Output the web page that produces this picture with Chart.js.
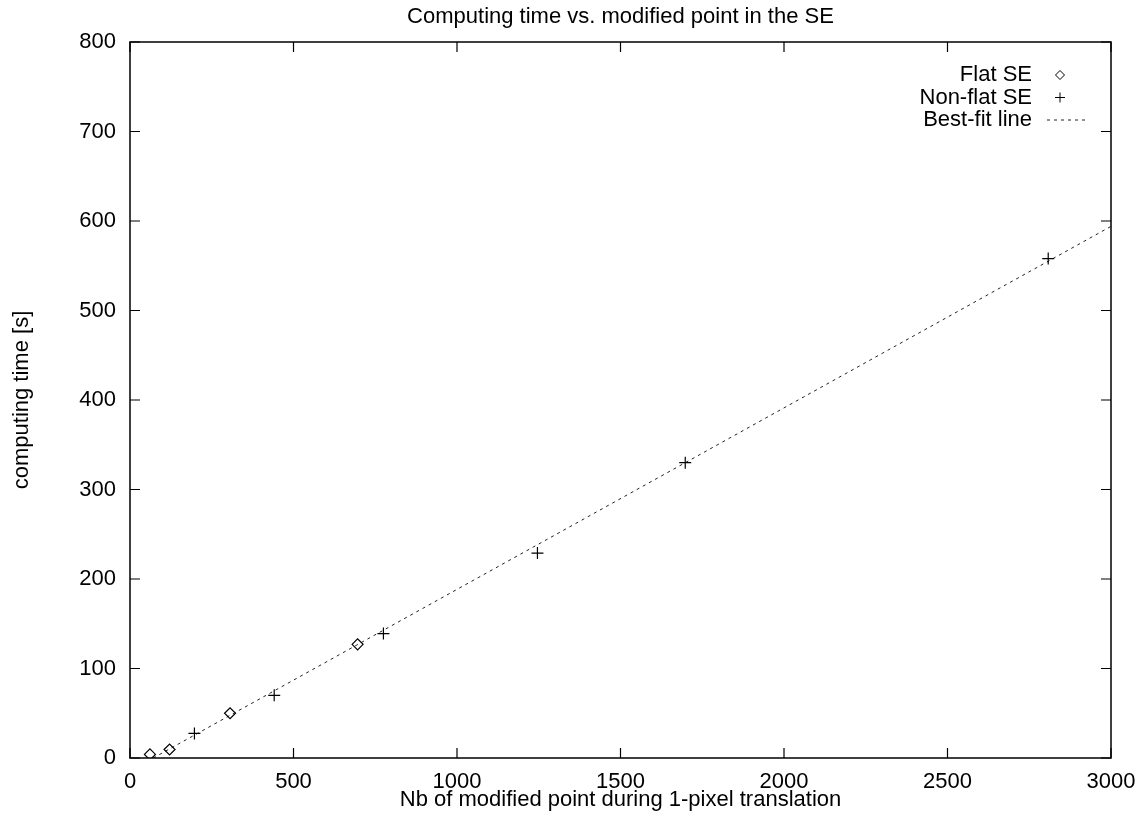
<!DOCTYPE html>
<html>
<head>
<meta charset="utf-8">
<title>Computing time vs. modified point in the SE</title>
<script src="https://cdn.jsdelivr.net/npm/chart.js@4.4.1/dist/chart.umd.min.js"></script>
<style>
  html, body { margin: 0; padding: 0; background: #fff; }
  #wrap { width: 1142px; height: 819px; }
</style>
</head>
<body>
<div id="wrap"><canvas id="grafica"></canvas></div>
<script>
// Datos
const flatX = [61, 121, 306, 696];
const flatY = [4, 9.5, 50, 127];

const nonFlatX = [197, 441, 775, 1246, 1698, 2808];
const nonFlatY = [27.5, 70, 139, 229, 330, 558];

// Recta de ajuste (extremos visibles)
const fitX = [71, 3000];
const fitY = [0, 594];

const xTicks = [0, 500, 1000, 1500, 2000, 2500, 3000];
const yTicks = [0, 100, 200, 300, 400, 500, 600, 700, 800];

const FONT = "'Liberation Sans', Arial, Helvetica, sans-serif";
const FS = 22;

const toPoints = (xs, ys) => xs.map((x, i) => ({ x, y: ys[i] }));

// Marco + marcas hacia dentro en los cuatro lados (estilo gnuplot)
const framePlugin = {
  id: "frame",
  afterDraw(chart) {
    const { ctx, chartArea: a, scales } = chart;
    const len = 10;
    ctx.save();
    ctx.strokeStyle = "#000";
    ctx.lineWidth = 1.5;
    ctx.strokeRect(a.left, a.top, a.right - a.left, a.bottom - a.top);
    ctx.lineWidth = 1.2;
    ctx.beginPath();
    xTicks.forEach((v) => {
      const px = scales.x.getPixelForValue(v);
      ctx.moveTo(px, a.bottom); ctx.lineTo(px, a.bottom - len);
      ctx.moveTo(px, a.top); ctx.lineTo(px, a.top + len);
    });
    yTicks.forEach((v) => {
      const py = scales.y.getPixelForValue(v);
      ctx.moveTo(a.left, py); ctx.lineTo(a.left + len, py);
      ctx.moveTo(a.right, py); ctx.lineTo(a.right - len, py);
    });
    ctx.stroke();
    ctx.restore();
  },
};

// Leyenda a la derecha: texto alineado a la derecha y muestra después
const legendPlugin = {
  id: "gnuLegend",
  afterDraw(chart) {
    const { ctx, chartArea: a } = chart;
    ctx.save();
    ctx.font = `${FS}px ${FONT}`;
    ctx.textAlign = "right";
    ctx.textBaseline = "middle";
    chart.data.datasets.forEach((ds, i) => {
      const y = a.top + 33 + i * 22.5;
      ctx.fillStyle = "#000";
      ctx.fillText(ds.label, a.right - 79, y);
      ctx.strokeStyle = ds.borderColor;
      ctx.lineWidth = 1;
      if (ds.showLine) {
        ctx.setLineDash(ds.borderDash || []);
        ctx.beginPath();
        ctx.moveTo(a.right - 64, y);
        ctx.lineTo(a.right - 23, y);
        ctx.stroke();
        ctx.setLineDash([]);
      } else {
        ctx.fillStyle = "rgba(0,0,0,0)";
        Chart.helpers.drawPoint(ctx, {
          pointStyle: ds.pointStyle,
          radius: ds.pointRadius - 1,
          borderWidth: 1,
        }, a.right - 51, y);
      }
    });
    ctx.restore();
  },
};

const chart = new Chart(document.getElementById("grafica"), {
  type: "scatter",
  data: {
    datasets: [
      {
        label: "Flat SE",
        data: toPoints(flatX, flatY),
        pointStyle: "rectRot",
        pointRadius: 5.5,
        borderColor: "#000",
        backgroundColor: "rgba(0,0,0,0)",
        borderWidth: 1.2,
        order: 1,
      },
      {
        label: "Non-flat SE",
        data: toPoints(nonFlatX, nonFlatY),
        pointStyle: "cross",
        pointRadius: 6,
        borderColor: "#000",
        backgroundColor: "#000",
        borderWidth: 1.2,
        order: 1,
      },
      {
        label: "Best-fit line",
        data: toPoints(fitX, fitY),
        showLine: true,
        pointRadius: 0,
        borderColor: "#222",
        borderWidth: 1,
        borderDash: [3, 4],
        fill: false,
        order: 2,
      },
    ],
  },
  options: {
    responsive: true,
    maintainAspectRatio: false,
    animation: false,
    layout: { padding: { top: 0, right: 31, bottom: 0, left: 0 } },
    plugins: {
      legend: { display: false },
      tooltip: { enabled: false },
      title: {
        display: true,
        fullSize: false,
        text: "Computing time vs. modified point in the SE",
        color: "#000",
        font: { family: FONT, size: FS, weight: "normal", lineHeight: 1.2 },
        padding: { top: 4, bottom: 11.6 },
      },
    },
    scales: {
      x: {
        type: "linear",
        min: 0,
        max: 3000,
        afterFit: (s) => { s.height = 61; s.paddingLeft = 0; s.paddingRight = 0; },
        afterBuildTicks: (s) => { s.ticks = xTicks.map((v) => ({ value: v })); },
        grid: { display: false, drawTicks: false },
        border: { display: false },
        ticks: {
          color: "#000",
          font: { family: FONT, size: FS },
          padding: 11,
          maxRotation: 0,
          autoSkip: false,
          callback: (v) => String(v),
        },
        title: {
          display: true,
          text: "Nb of modified point during 1-pixel translation",
          color: "#000",
          font: { family: FONT, size: FS },
          padding: { top: 0, bottom: 5.8 },
        },
      },
      y: {
        type: "linear",
        min: 0,
        max: 800,
        afterFit: (s) => { s.width = 130; },
        afterBuildTicks: (s) => { s.ticks = yTicks.map((v) => ({ value: v })); },
        grid: { display: false, drawTicks: false },
        border: { display: false },
        ticks: {
          color: "#000",
          font: { family: FONT, size: FS },
          padding: 14,
          autoSkip: false,
          callback: (v) => String(v),
        },
        title: {
          display: true,
          text: "computing time [s]",
          color: "#000",
          font: { family: FONT, size: FS },
          padding: { top: 8.8, bottom: 0 },
        },
      },
    },
  },
  plugins: [framePlugin, legendPlugin],
});
</script>
</body>
</html>
